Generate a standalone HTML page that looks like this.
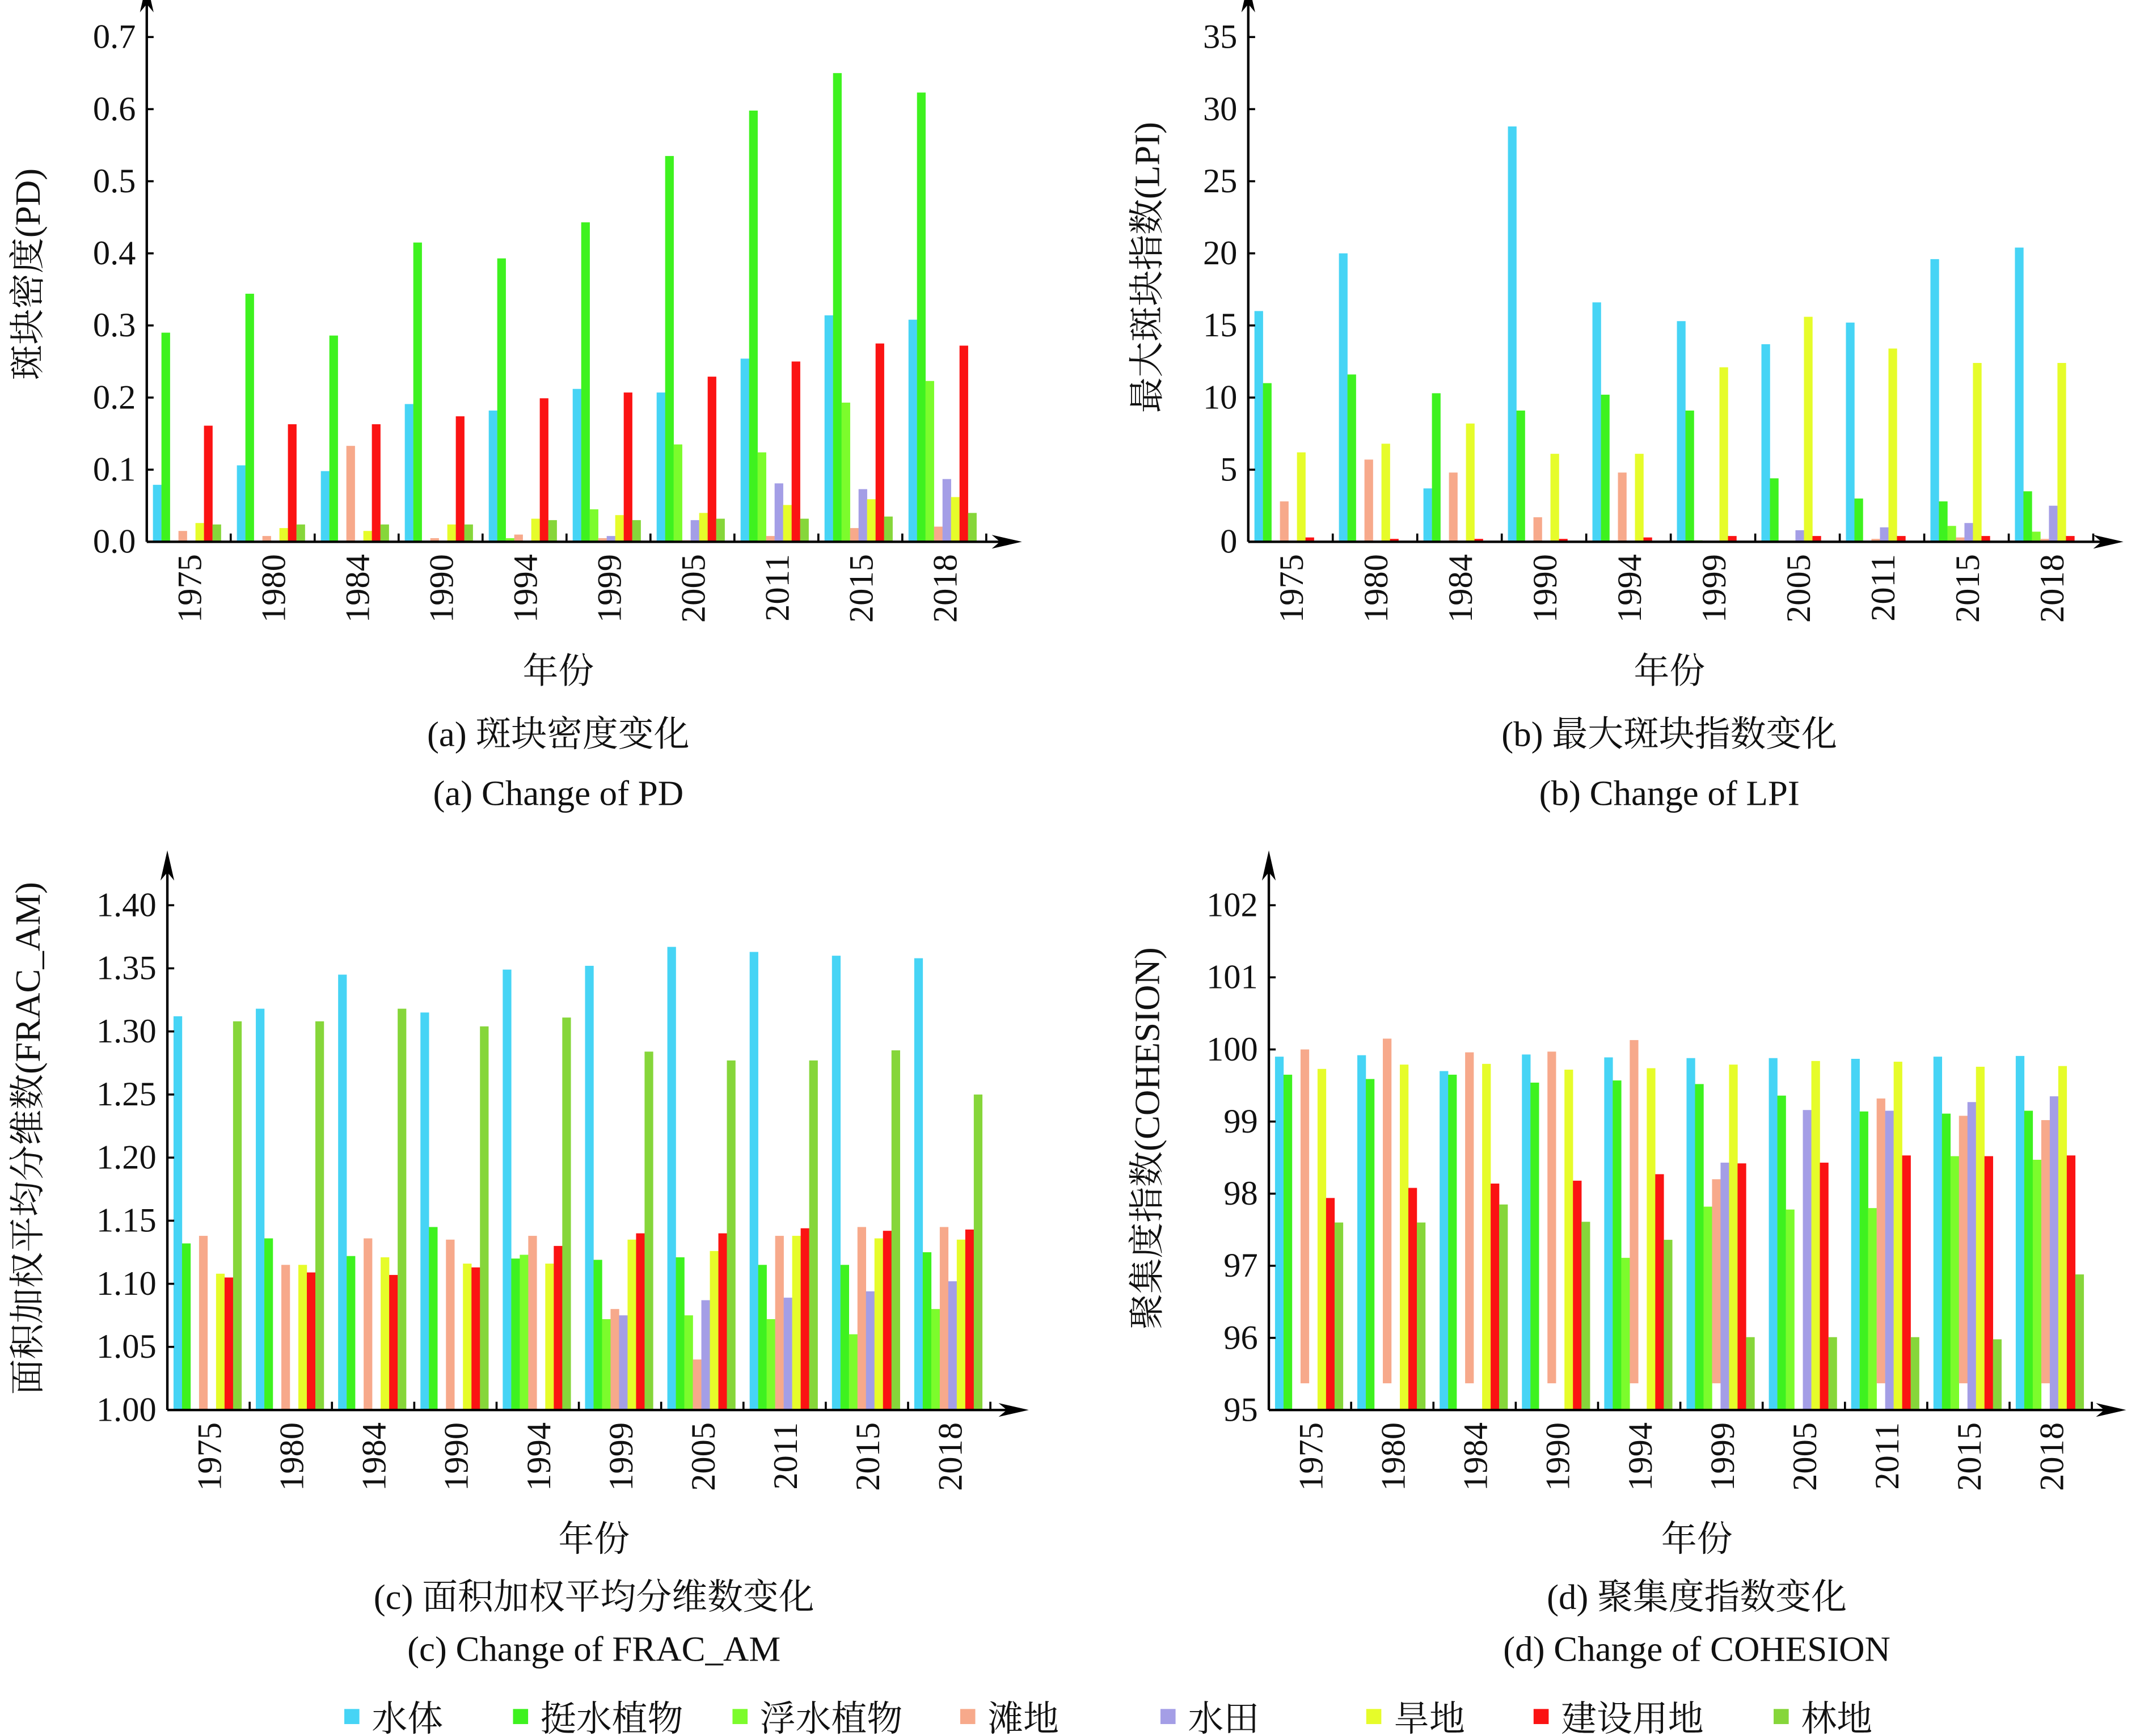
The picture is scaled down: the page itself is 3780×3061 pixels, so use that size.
<!DOCTYPE html>
<html><head><meta charset="utf-8">
<style>
html,body{margin:0;padding:0;background:#fff;}
svg{display:block;}
text{font-family:"Liberation Serif","Noto Serif CJK SC",serif;fill:#111;}
</style></head>
<body>
<svg id="chart" width="3780" height="3061" viewBox="0 0 1563 1265.7" preserveAspectRatio="none" xmlns="http://www.w3.org/2000/svg">
</svg>
<script>
const years = ["1975","1980","1984","1990","1994","1999","2005","2011","2015","2018"];
const seriesNames = ["水体","挺水植物","浮水植物","滩地","水田","旱地","建设用地","林地"];
const seriesColors = ["#46d4f5","#3ef21f","#7cfc2c","#f7a98b","#a49ee6","#e6fc2a","#fb1313","#86d63a"];
const pdValues = [
 [0.079,0.106,0.098,0.191,0.182,0.212,0.207,0.254,0.314,0.308],
 [0.290,0.344,0.286,0.415,0.393,0.443,0.535,0.598,0.650,0.623],
 [0,0,0,0,0.005,0.045,0.135,0.124,0.193,0.223],
 [0.015,0.008,0.133,0.005,0.010,0.005,0.002,0.008,0.019,0.021],
 [0,0,0,0,0,0.008,0.030,0.081,0.073,0.087],
 [0.026,0.019,0.015,0.024,0.032,0.037,0.040,0.051,0.059,0.062],
 [0.161,0.163,0.163,0.174,0.199,0.207,0.229,0.250,0.275,0.272],
 [0.024,0.024,0.024,0.024,0.030,0.030,0.032,0.032,0.035,0.040]
];
const lpiValues = [
 [16,20,3.7,28.8,16.6,15.3,13.7,15.2,19.6,20.4],
 [11,11.6,10.3,9.1,10.2,9.1,4.4,3.0,2.8,3.5],
 [0,0,0,0,0,0.1,0,0,1.1,0.7],
 [2.8,5.7,4.8,1.7,4.8,0,0,0.2,0.3,0.2],
 [0,0,0,0,0,0,0.8,1.0,1.3,2.5],
 [6.2,6.8,8.2,6.1,6.1,12.1,15.6,13.4,12.4,12.4],
 [0.3,0.2,0.2,0.2,0.3,0.4,0.4,0.4,0.4,0.4],
 [0,0,0,0,0,0,0,0,0,0]
];
const fracValues = [
 [1.312,1.318,1.345,1.315,1.349,1.352,1.367,1.363,1.360,1.358],
 [1.132,1.136,1.122,1.145,1.120,1.119,1.121,1.115,1.115,1.125],
 [null,null,null,null,1.123,1.072,1.075,1.072,1.060,1.080],
 [1.138,1.115,1.136,1.135,1.138,1.080,1.040,1.138,1.145,1.145],
 [null,null,null,null,null,1.075,1.087,1.089,1.094,1.102],
 [1.108,1.115,1.121,1.116,1.116,1.135,1.126,1.138,1.136,1.135],
 [1.105,1.109,1.107,1.113,1.130,1.140,1.140,1.144,1.142,1.143],
 [1.308,1.308,1.318,1.304,1.311,1.284,1.277,1.277,1.285,1.250]
];
const cohValues = [
 [99.90,99.92,99.70,99.93,99.89,99.88,99.88,99.87,99.90,99.91],
 [99.65,99.59,99.65,99.54,99.57,99.52,99.36,99.14,99.11,99.15],
 [null,null,null,null,97.11,97.82,97.78,97.80,98.52,98.47],
 [100.0,100.15,99.96,99.97,100.13,98.20,null,99.32,99.08,99.02],
 [null,null,null,null,null,98.43,99.16,99.15,99.27,99.35],
 [99.73,99.79,99.80,99.72,99.74,99.79,99.84,99.83,99.76,99.77],
 [97.94,98.08,98.14,98.18,98.27,98.42,98.43,98.53,98.52,98.53],
 [97.60,97.60,97.85,97.61,97.36,96.01,96.01,96.01,95.98,96.88]
];
const pdTicks = ["0.0","0.1","0.2","0.3","0.4","0.5","0.6","0.7"];
const lpiTicks = ["0","5","10","15","20","25","30","35"];
const fracTicks = ["1.00","1.05","1.10","1.15","1.20","1.25","1.30","1.35","1.40"];
const cohTicks = ["95","96","97","98","99","100","101","102"];
const cohSalmonBase = 95.37;

const NS="http://www.w3.org/2000/svg";
const svg=document.getElementById('chart');
function mk(tag,attrs,parent){const e=document.createElementNS(NS,tag);for(const k in attrs)e.setAttribute(k,attrs[k]);(parent||svg).appendChild(e);return e;}

function panel(cfg){
  const g=mk('g',{});
  
  
  const {x0,y0,yTop,xEnd,vMin,vMax,groupW}=cfg;
  const yScale=v=>y0-(v-vMin)/(vMax-vMin)*(y0-yTop);
  for(let s=0;s<cfg.values.length;s++){
    for(let i=0;i<years.length;i++){
      const v=cfg.values[s][i];
      if(v===null||v===undefined)continue;
      const base=(cfg.bases&&cfg.bases[s]!==undefined)?cfg.bases[s]:vMin;
      const x=x0+i*groupW+4.5+s*6.2;
      const yv=yScale(v), yb=yScale(base);
      const r=mk('rect',{x:x,y:Math.min(yv,yb),width:6.3,height:Math.max(0,Math.abs(yb-yv)),fill:seriesColors[s]},g);
      
      
    }
  }
  const ya=mk('line',{x1:x0,y1:y0,x2:x0,y2:yTop-28,stroke:'#000','stroke-width':1.8},g);
  
  
  mk('path',{d:`M${x0},${yTop-40} L${x0-5},${yTop-18} L${x0},${yTop-24} L${x0+5},${yTop-18} Z`,fill:'#000'},g);
  const xa=mk('line',{x1:x0,y1:y0,x2:xEnd,y2:y0,stroke:'#000','stroke-width':1.8},g);
  
  
  mk('path',{d:`M${xEnd+10},${y0} L${xEnd-12},${y0-5} L${xEnd-6},${y0} L${xEnd-12},${y0+5} Z`,fill:'#000'},g);
  cfg.ticks.forEach((t,k)=>{
    const v=vMin+k*cfg.step;const y=yScale(v);
    mk('line',{x1:x0,y1:y,x2:x0+5,y2:y,stroke:'#000','stroke-width':1.5},g);
    const tx=mk('text',{x:x0-8,y:y+8,'text-anchor':'end','font-size':25},g);
    tx.textContent=t;
    
    
  });
  years.forEach((yr,i)=>{
    const xs=x0+(i+1)*groupW;
    mk('line',{x1:xs,y1:y0,x2:xs,y2:y0-6,stroke:'#000','stroke-width':1.5},g);
    const cx=x0+i*groupW+groupW/2;
    const tx=mk('text',{x:0,y:0,'text-anchor':'end','font-size':25,transform:`translate(${cx+9},${y0+9}) rotate(-90)`},g);
    tx.textContent=yr;
    
    
  });
  const xt=mk('text',{x:cfg.cx,y:y0+103,'text-anchor':'middle','font-size':26},g);
  xt.textContent='年份';
  
  
  const yt=mk('text',{x:0,y:0,'text-anchor':'middle','font-size':26,transform:`translate(${cfg.ytx},${cfg.yty}) rotate(-90)`},g);
  yt.textContent=cfg.ytitle;
  
  
  const c1=mk('text',{x:cfg.cx,y:cfg.capY,'text-anchor':'middle','font-size':26},g);
  c1.textContent=cfg.cap1;
  
  
  const c2=mk('text',{x:cfg.cx,y:cfg.capY+cfg.capGap,'text-anchor':'middle','font-size':26},g);
  c2.textContent=cfg.cap2;
  
  
}
panel({name:'panel-a-pd',x0:107,y0:395,yTop:27,xEnd:735,vMin:0,vMax:0.7,step:0.1,groupW:61.2,values:pdValues,ticks:pdTicks,
  cx:407,ytitle:'斑块密度(PD)',ytx:29,yty:200,capY:544,capGap:43,cap1:'(a) 斑块密度变化',cap2:'(a) Change of PD'});
panel({name:'panel-b-lpi',x0:910,y0:395,yTop:27,xEnd:1538,vMin:0,vMax:35,step:5,groupW:61.6,values:lpiValues,ticks:lpiTicks,
  cx:1217,ytitle:'最大斑块指数(LPI)',ytx:845,yty:195,capY:544,capGap:43,cap1:'(b) 最大斑块指数变化',cap2:'(b) Change of LPI'});
panel({name:'panel-c-frac',x0:122,y0:1028,yTop:660,xEnd:740,vMin:1.0,vMax:1.4,step:0.05,groupW:60,values:fracValues,ticks:fracTicks,
  cx:433,ytitle:'面积加权平均分维数(FRAC_AM)',ytx:29,yty:830,capY:1173,capGap:38,cap1:'(c) 面积加权平均分维数变化',cap2:'(c) Change of FRAC_AM'});
panel({name:'panel-d-cohesion',x0:925,y0:1028,yTop:660,xEnd:1540,vMin:95,vMax:102,step:1,groupW:60,values:cohValues,ticks:cohTicks,bases:{3:cohSalmonBase},
  cx:1237,ytitle:'聚集度指数(COHESION)',ytx:845,yty:830,capY:1173,capGap:38,cap1:'(d) 聚集度指数变化',cap2:'(d) Change of COHESION'});

const legX=[251,374,534,700,846,996,1118,1293];
const lg=mk('g',{});


seriesNames.forEach((n,s)=>{
  const r=mk('rect',{x:legX[s],y:1246,width:11,height:11,fill:seriesColors[s]},lg);
  
  
  const t=mk('text',{x:legX[s]+20,y:1262,'font-size':26},lg);
  t.textContent=n;
  
  
});
</script>
</body></html>
